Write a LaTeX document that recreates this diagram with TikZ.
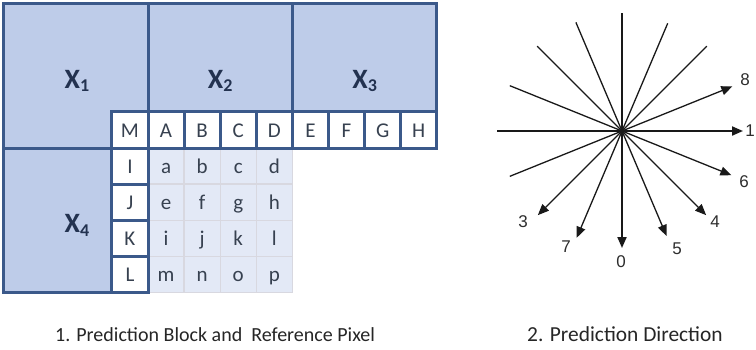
\documentclass[tikz,border=0pt]{standalone}
\usepackage{fontspec}
\setmainfont{Carlito}
\newfontfamily\arialfont{Liberation Sans}
\usetikzlibrary{arrows.meta,calc}
\definecolor{blockfill}{RGB}{190,204,233}
\definecolor{borderblue}{RGB}{59,89,138}
\definecolor{gridfill}{RGB}{227,233,246}
\definecolor{gridline}{RGB}{216,216,224}
\definecolor{celltext}{RGB}{55,65,80}
\definecolor{xtext}{RGB}{35,50,80}
\definecolor{dirline}{RGB}{25,25,25}
\definecolor{dirtext}{RGB}{45,45,45}
\newcommand{\xlab}[1]{{\fontsize{28}{28}\selectfont\bfseries X}\raisebox{-3.5pt}{\fontsize{18}{18}\selectfont\bfseries #1}}
\begin{document}
\begin{tikzpicture}[x=1pt,y=-1pt,
  block/.style={fill=blockfill,draw=borderblue,line width=3pt},
  xlabel/.style={anchor=base,text=xtext,inner sep=0pt},
  refcell/.style={draw=borderblue,line width=3pt,fill=white,minimum size=36.1pt,inner sep=0pt,
    text=celltext,font=\fontsize{21}{21}\selectfont,text height=15pt,text depth=0pt},
  gridcell/.style={draw=gridline,line width=1.3pt,fill=gridfill,minimum size=36.1pt,inner sep=0pt,
    text=celltext,font=\fontsize{21}{21}\selectfont,text height=14pt,text depth=0pt},
  caption/.style={anchor=base west,inner sep=0pt,text=black!85},
  dirax/.style={draw=dirline,line width=2pt},
  dirdiag/.style={draw=dirline,line width=1.3pt},
  tip/.style={-{Triangle[length=11pt,width=9pt]}},
  dirlab/.style={text=dirtext,inner sep=0pt,font=\arialfont\fontsize{17}{17}\selectfont}]
\useasboundingbox[fill=white] (0,0) rectangle (756,349);

% ---------- left figure ----------
\begin{scope}[shift={(3.6pt,-3.6pt)},x=36.1pt,y=-36.1pt]
  \draw[block] (0,0) rectangle (4,4);
  \draw[block] (4,0) rectangle (8,4);
  \draw[block] (8,0) rectangle (12,4);
  \draw[block] (0,4) rectangle (4,8);
  \node[xlabel] (X1) at (2.03,2.34) {\xlab{1}};
  \node[xlabel] (X2) at (6.0,2.34) {\xlab{2}};
  \node[xlabel] (X3) at (10.0,2.34) {\xlab{3}};
  \node[xlabel] (X4) at (2.03,6.35) {\xlab{4}};
  \foreach \rowlist [count=\rr from 0] in {{a,b,c,d},{e,f,g,h},{i,j,k,l},{m,n,o,p}}
    \foreach \nm [count=\cc from 0] in \rowlist
      \node[gridcell] (\nm) at (4.5+\cc,4.5+\rr) {\nm};
  \node[refcell] (M) at (3.5,3.5) {M};
  \foreach \nm [count=\cc from 0] in {A,B,C,D,E,F,G,H}
    \node[refcell] (\nm) at (4.5+\cc,3.5) {\nm};
  \foreach \nm [count=\rr from 0] in {I,J,K,L}
    \node[refcell] (\nm) at (3.5,4.5+\rr) {\nm};
\end{scope}

% ---------- right figure ----------
\coordinate (C) at (622,131);
% axes
\coordinate (s0) at ($(C)+(90:118pt)$);
\coordinate (e0) at ($(C)+(270:117pt)$);
\coordinate (s1) at ($(C)+(180:125pt)$);
\coordinate (e1) at ($(C)+(0:121pt)$);
% diagonals
\coordinate (s3) at ($(C)+(45:120pt)$);
\coordinate (e3) at ($(C)+(225:119pt)$);
\coordinate (s4) at ($(C)+(135:120pt)$);
\coordinate (e4) at ($(C)+(-45:119pt)$);
\coordinate (s5) at ($(C)+(113:118pt)$);
\coordinate (e5) at ($(C)+(-67:114pt)$);
\coordinate (s6) at ($(C)+(158:121pt)$);
\coordinate (e6) at ($(C)+(-22:118pt)$);
\coordinate (s7) at ($(C)+(67:117pt)$);
\coordinate (e7) at ($(C)+(247:116pt)$);
\coordinate (s8) at ($(C)+(202:121pt)$);
\coordinate (e8) at ($(C)+(22:119pt)$);
\foreach \k in {3,4,5,6,7,8}
  \draw[dirdiag,tip] (s\k) -- (e\k);
\draw[dirax,tip] (s0) -- (e0);
\draw[dirax,tip] (s1) -- (e1);
\node[dirlab] (l0) at (621,262) {0};
\node[dirlab] (l1) at (750,131) {1};
\node[dirlab] (l3) at (523,222) {3};
\node[dirlab] (l4) at (715,222) {4};
\node[dirlab] (l5) at (677,249) {5};
\node[dirlab] (l6) at (744,182) {6};
\node[dirlab] (l7) at (566,247) {7};
\node[dirlab] (l8) at (745,80) {8};

% ---------- captions ----------
\node[caption,font=\fontsize{20}{20}\selectfont] (cap1) at (55,341) {1. Prediction Block and\ \ Reference Pixel};
\node[caption,font=\fontsize{21.4}{21.4}\selectfont] (cap2) at (527,341) {2. Prediction Direction};
\end{tikzpicture}
\end{document}
